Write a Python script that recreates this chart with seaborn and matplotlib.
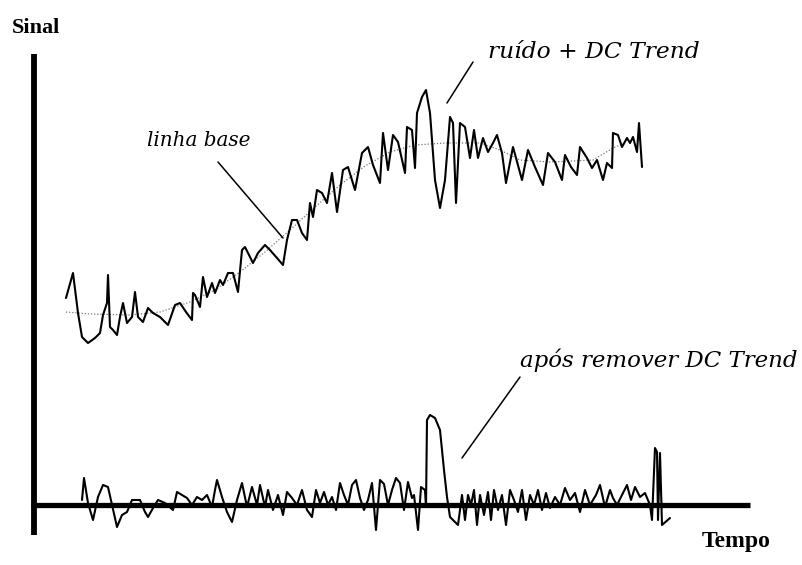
import matplotlib
matplotlib.use("Agg")
import matplotlib.pyplot as plt
import pandas as pd
import seaborn as sns

# Raw signal (ruído + DC trend): time and amplitude
raw_time = [32, 39, 44, 48, 54, 61, 66, 69, 73, 74,
            76, 79, 83, 86, 89, 93, 98, 101, 104, 109,
            114, 119, 126, 134, 141, 146, 152, 158, 159, 161,
            166, 169, 173, 178, 181, 186, 189, 194, 199, 204,
            208, 211, 216, 219, 224, 231, 236, 243, 249, 253,
            258, 263, 268, 273, 276, 279, 283, 288, 293, 298,
            303, 309, 314, 321, 328, 334, 339, 346, 349, 354,
            359, 364, 371, 373, 378,
            381, 383, 388, 392, 396, 401, 406, 411, 416, 419,
            422, 426, 431, 436, 440, 444, 449, 454, 459, 463,
            468, 472, 479, 488, 494, 501, 509, 514, 521, 528,
            531, 537, 543, 546, 553, 558, 563, 569, 573, 578,
            579, 584, 588, 593, 596, 599, 603, 605, 608]
raw_signal = [207, 232, 192, 168, 162, 167, 172, 190, 202, 230,
              178, 175, 170, 188, 202, 182, 188, 213, 188, 183,
              197, 192, 188, 180, 200, 202, 193, 185, 212, 210,
              198, 228, 208, 222, 212, 225, 220, 232, 232, 213,
              255, 258, 248, 242, 252, 260, 255, 247, 240, 265,
              285, 285, 272, 265, 302, 288, 315, 312, 302, 332,
              293, 335, 338, 315, 352, 358, 340, 322, 372, 335,
              370, 363, 332, 378, 375,
              337, 392, 408, 415, 392, 325, 297, 325, 388, 382,
              302, 382, 378, 347, 375, 347, 367, 353, 362, 370,
              352, 322, 358, 325, 355, 338, 320, 352, 343, 325,
              350, 338, 330, 358, 347, 337, 345, 325, 342, 337,
              372, 370, 358, 367, 362, 368, 353, 382, 338]

# Baseline (linha base) of the raw signal
base_time = [32, 56, 96, 126, 156, 181, 206, 231, 256, 281, 306,
             331, 356, 381, 411, 446, 466, 486, 516, 559, 579, 591]
base_signal = [193, 191, 190, 193, 203, 215, 233, 253, 275, 298, 320,
               339, 353, 360, 362, 362, 355, 345, 343, 345, 357, 362]

# Signal after removing the DC trend
flat_time = [48, 50, 54, 59, 64, 69, 74, 78, 83, 88,
             93, 98, 106, 111, 114, 119, 124, 131, 139, 143,
             148, 153, 158, 163, 168, 173, 178, 181, 183, 188,
             193, 198, 203, 208, 213, 218, 223, 226, 231, 234,
             239, 244, 249, 253, 258, 263, 268, 273, 278, 282,
             286, 290, 294, 298, 302, 306, 310, 314, 318, 322,
             326, 330, 334, 338, 342, 346, 350, 354, 358, 362,
             366, 370, 374, 378, 380, 384, 387, 391, 392, 393,
             396, 401, 406, 410, 413, 416, 419, 424, 428, 431,
             434, 437, 440, 443, 446, 450, 454, 457, 460, 464,
             468, 472, 476, 480, 484, 488, 492, 496, 500, 504,
             508, 512, 516, 521, 526, 531, 536, 541, 546, 551,
             556, 562, 566, 571, 576, 579, 583, 588, 593, 597,
             601, 606, 611, 616, 618, 621, 623, 624, 626, 628,
             636]
flat_signal = [5, 27, 2, -15, 8, 20, 18, 0, -22, -10,
               -7, 5, 5, -7, -12, -3, 5, 2, -5, 13,
               10, 7, 0, 8, 5, 10, -2, 15, 25, 8,
               -7, -17, 5, 22, -2, 18, 0, 20, -2, 15,
               -5, 10, -10, 13, 7, 0, 15, -5, -12, 15,
               2, 13, 0, 8, -5, 22, 10, 0, 20, 25,
               7, -5, 5, 22, -25, 25, 21, 0, 15, 27,
               22, -5, 23, 7, 10, -25, 18, 15, -2, 85,
               90, 87, 75, 35, 8, -12, -15, -20, 10, -15,
               10, 0, 15, -20, 10, -10, 13, -15, 15, -5,
               10, -20, 15, 5, -7, 15, -15, 10, 0, 15,
               -5, 12, -3, 8, 0, 17, 5, 12, -7, 15,
               0, 10, 20, -2, 15, 7, 0, 10, 20, 5,
               18, 8, 12, 0, -15, 57, 53, -15, 52, -20,
               -13]

# Annotation texts and leader lines
labels = ["ruído + DC Trend", "linha base", "após remover DC Trend"]
label_pos = [(454, 447), (113, 359), (486, 138)]
label_size = [16.8, 14.4, 16.5]
leaders = [((439, 443), (413, 402)), ((184, 343), (249, 267)), ((486, 128), (428, 47))]

sns.set_theme(style="white")

fig = plt.figure(figsize=(8.03, 5.65), dpi=100)
ax = fig.add_axes([0, 0, 1, 1])
ax.set_xlim(-34, 769)
ax.set_ylim(-60, 505)
ax.axis("off")

raw = pd.DataFrame({"t": raw_time, "s": raw_signal})
base = pd.DataFrame({"t": base_time, "s": base_signal})
flat = pd.DataFrame({"t": flat_time, "s": flat_signal})

sns.lineplot(data=base, x="t", y="s", ax=ax, color="#777777", lw=0.9,
             linestyle=(0, (1, 1.5)), sort=False, estimator=None)
sns.lineplot(data=raw, x="t", y="s", ax=ax, color="black", lw=1.5,
             sort=False, estimator=None)
sns.lineplot(data=flat, x="t", y="s", ax=ax, color="black", lw=1.5,
             sort=False, estimator=None)

# thick hand-drawn style axes
ax.plot([0, 0], [-30, 451], color="black", lw=4.2, solid_capstyle="butt")
ax.plot([-3, 716], [0, 0], color="black", lw=3.8, solid_capstyle="butt")

ax.text(-22, 472, "Sinal", fontsize=16, fontweight="bold", color="black",
        family="Liberation Serif", va="baseline", ha="left")
ax.text(668, -42, "Tempo", fontsize=17, fontweight="bold", color="black",
        family="Liberation Serif", va="baseline", ha="left")

for txt, (tx, ty), fs in zip(labels, label_pos, label_size):
    ax.text(tx, ty, txt, fontsize=fs, style="italic", family="DejaVu Serif",
            color="black", va="baseline", ha="left")
for (x0, y0), (x1, y1) in leaders:
    ax.plot([x0, x1], [y0, y1], color="black", lw=1.1)

fig.savefig("out.png", dpi=100)
